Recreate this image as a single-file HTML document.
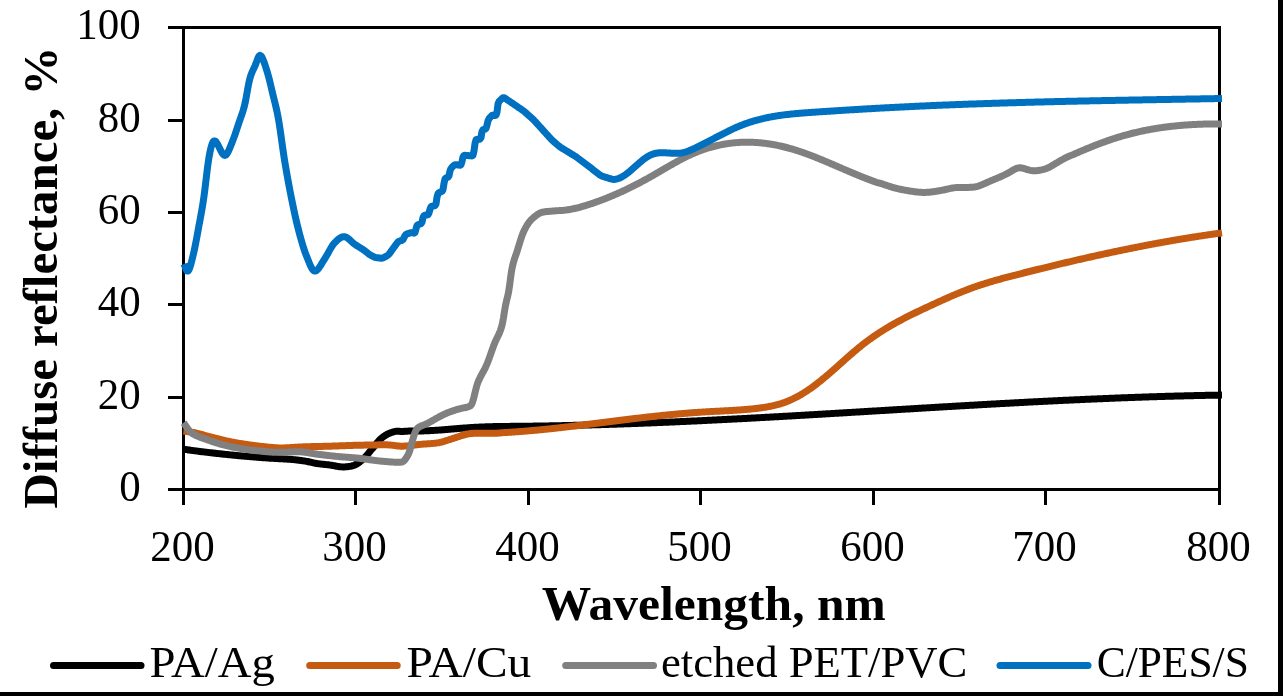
<!DOCTYPE html>
<html><head><meta charset="utf-8">
<style>
html,body{margin:0;padding:0;background:#fff;}
body{width:1283px;height:696px;overflow:hidden;position:relative;}
svg{position:absolute;left:0;top:0;will-change:transform;}
text{font-family:"Liberation Serif",serif;fill:#000;}
</style></head><body>
<svg width="1283" height="696" viewBox="0 0 1283 696">
<rect x="0" y="0" width="1283" height="696" fill="#fff"/>
<g font-size="44.5">
<g text-anchor="end">
<text transform="translate(140.8,39.3) scale(0.966,1)">100</text>
<text transform="translate(140.8,132.3) scale(0.966,1)">80</text>
<text transform="translate(140.8,224.3) scale(0.966,1)">60</text>
<text transform="translate(140.8,316.3) scale(0.966,1)">40</text>
<text transform="translate(140.8,409.3) scale(0.966,1)">20</text>
<text transform="translate(140.8,501.3) scale(0.966,1)">0</text>
</g>
<g text-anchor="middle">
<text transform="translate(182.5,561.2) scale(0.966,1)">200</text>
<text transform="translate(354.5,561.2) scale(0.966,1)">300</text>
<text transform="translate(527.5,561.2) scale(0.966,1)">400</text>
<text transform="translate(699.5,561.2) scale(0.966,1)">500</text>
<text transform="translate(872.5,561.2) scale(0.966,1)">600</text>
<text transform="translate(1044.5,561.2) scale(0.966,1)">700</text>
<text transform="translate(1218.5,561.2) scale(0.966,1)">800</text>
</g>
</g>
<text x="541.8" y="620" font-size="49.5" font-weight="bold" textLength="343.9" lengthAdjust="spacingAndGlyphs">Wavelength, nm</text>
<text transform="translate(57,508.45) rotate(-90)" x="0" y="0" font-size="49.5" font-weight="bold" textLength="461.9" lengthAdjust="spacingAndGlyphs">Diffuse reflectance, %</text>
<g stroke-width="7" stroke-linecap="round">
<line x1="53.5" y1="665.4" x2="141" y2="665.4" stroke="#000"/>
<line x1="309.7" y1="665.4" x2="397.2" y2="665.4" stroke="#C55A11"/>
<line x1="565.7" y1="665.4" x2="653.5" y2="665.4" stroke="#808080"/>
<line x1="1000" y1="665.4" x2="1088" y2="665.4" stroke="#0070C0"/>
</g>
<g font-size="44.5">
<text x="149.45" y="677.1" textLength="125.44" lengthAdjust="spacingAndGlyphs">PA/Ag</text>
<text x="406.53" y="677.1" textLength="124.75" lengthAdjust="spacingAndGlyphs">PA/Cu</text>
<text x="660.9" y="677.1" textLength="306.5" lengthAdjust="spacingAndGlyphs">etched PET/PVC</text>
<text x="1096.65" y="677.1" textLength="152.2" lengthAdjust="spacingAndGlyphs">C/PES/S</text>
</g>
<g stroke="#000" stroke-width="3" fill="none" shape-rendering="crispEdges">
<line x1="168" y1="27.5" x2="183.5" y2="27.5"/>
<line x1="168" y1="120.5" x2="183.5" y2="120.5"/>
<line x1="168" y1="212.5" x2="183.5" y2="212.5"/>
<line x1="168" y1="304.5" x2="183.5" y2="304.5"/>
<line x1="168" y1="397.5" x2="183.5" y2="397.5"/>
<line x1="168" y1="489.5" x2="183.5" y2="489.5"/>
<line x1="168" y1="27.5" x2="1221" y2="27.5"/>
<line x1="183.5" y1="26" x2="183.5" y2="505"/>
<line x1="168" y1="489.5" x2="1221" y2="489.5"/>
<line x1="1219.5" y1="26" x2="1219.5" y2="505"/>
<line x1="183.5" y1="489.5" x2="183.5" y2="505"/>
<line x1="355.5" y1="489.5" x2="355.5" y2="505"/>
<line x1="528.5" y1="489.5" x2="528.5" y2="505"/>
<line x1="700.5" y1="489.5" x2="700.5" y2="505"/>
<line x1="873.5" y1="489.5" x2="873.5" y2="505"/>
<line x1="1045.5" y1="489.5" x2="1045.5" y2="505"/>
<line x1="1219.5" y1="489.5" x2="1219.5" y2="505"/>
</g>
<path d="M183.5,449.32 L184.5,449.41 L185.5,449.52 L186.5,449.65 L187.5,449.80 L188.5,449.94 L189.5,450.08 L190.5,450.22 L191.5,450.36 L192.5,450.50 L193.5,450.63 L194.5,450.76 L195.5,450.89 L196.5,451.02 L197.5,451.15 L198.5,451.28 L199.5,451.40 L200.5,451.53 L201.5,451.65 L202.5,451.77 L203.5,451.90 L204.5,452.02 L205.5,452.14 L206.5,452.26 L207.5,452.38 L208.5,452.49 L209.5,452.61 L210.5,452.72 L211.5,452.84 L212.5,452.95 L213.5,453.07 L214.5,453.18 L215.5,453.29 L216.5,453.40 L217.5,453.51 L218.5,453.62 L219.5,453.73 L220.5,453.84 L221.5,453.94 L222.5,454.05 L223.5,454.16 L224.5,454.26 L225.5,454.37 L226.5,454.47 L227.5,454.57 L228.5,454.68 L229.5,454.78 L230.5,454.88 L231.5,454.98 L232.5,455.08 L233.5,455.17 L234.5,455.27 L235.5,455.37 L236.5,455.46 L237.5,455.56 L238.5,455.65 L239.5,455.74 L240.5,455.84 L241.5,455.93 L242.5,456.02 L243.5,456.11 L244.5,456.19 L245.5,456.28 L246.5,456.37 L247.5,456.45 L248.5,456.54 L249.5,456.62 L250.5,456.71 L251.5,456.79 L252.5,456.87 L253.5,456.96 L254.5,457.04 L255.5,457.12 L256.5,457.20 L257.5,457.28 L258.5,457.35 L259.5,457.43 L260.5,457.51 L261.5,457.58 L262.5,457.66 L263.5,457.73 L264.5,457.80 L265.5,457.87 L266.5,457.94 L267.5,458.01 L268.5,458.08 L269.5,458.14 L270.5,458.20 L271.5,458.26 L272.5,458.32 L273.5,458.37 L274.5,458.43 L275.5,458.48 L276.5,458.54 L277.5,458.59 L278.5,458.64 L279.5,458.69 L280.5,458.75 L281.5,458.80 L282.5,458.85 L283.5,458.91 L284.5,458.97 L285.5,459.03 L286.5,459.09 L287.5,459.16 L288.5,459.23 L289.5,459.30 L290.5,459.37 L291.5,459.45 L292.5,459.54 L293.5,459.63 L294.5,459.72 L295.5,459.82 L296.5,459.93 L297.5,460.04 L298.5,460.16 L299.5,460.28 L300.5,460.41 L301.5,460.55 L302.5,460.69 L303.5,460.84 L304.5,460.99 L305.5,461.17 L306.5,461.35 L307.5,461.55 L308.5,461.76 L309.5,461.98 L310.5,462.21 L311.5,462.44 L312.5,462.66 L313.5,462.88 L314.5,463.09 L315.5,463.28 L316.5,463.45 L317.5,463.61 L318.5,463.75 L319.5,463.88 L320.5,464.00 L321.5,464.11 L322.5,464.21 L323.5,464.31 L324.5,464.41 L325.5,464.51 L326.5,464.62 L327.5,464.72 L328.5,464.84 L329.5,464.97 L330.5,465.11 L331.5,465.26 L332.5,465.43 L333.5,465.62 L334.5,465.81 L335.5,466.01 L336.5,466.20 L337.5,466.38 L338.5,466.54 L339.5,466.68 L340.5,466.79 L341.5,466.87 L342.5,466.92 L343.5,466.93 L344.5,466.90 L345.5,466.85 L346.5,466.77 L347.5,466.66 L348.5,466.53 L349.5,466.38 L350.5,466.21 L351.5,466.01 L352.5,465.78 L353.5,465.49 L354.5,465.13 L355.5,464.69 L356.5,464.16 L357.5,463.55 L358.5,462.87 L359.5,462.13 L360.5,461.34 L361.5,460.52 L362.5,459.66 L363.5,458.75 L364.5,457.77 L365.5,456.71 L366.5,455.60 L367.5,454.43 L368.5,453.24 L369.5,452.03 L370.5,450.82 L371.5,449.62 L372.5,448.43 L373.5,447.23 L374.5,446.01 L375.5,444.77 L376.5,443.53 L377.5,442.32 L378.5,441.15 L379.5,440.06 L380.5,439.06 L381.5,438.17 L382.5,437.36 L383.5,436.62 L384.5,435.93 L385.5,435.29 L386.5,434.69 L387.5,434.15 L388.5,433.66 L389.5,433.23 L390.5,432.85 L391.5,432.51 L392.5,432.20 L393.5,431.91 L394.5,431.64 L395.5,431.41 L396.5,431.20 L397.5,431.15 L398.5,431.23 L399.5,431.32 L400.5,431.41 L401.5,431.47 L402.5,431.50 L403.5,431.45 L404.5,431.36 L405.5,431.28 L406.5,431.22 L407.5,431.16 L408.5,431.12 L409.5,431.08 L410.5,431.05 L411.5,431.03 L412.5,431.01 L413.5,430.99 L414.5,430.98 L415.5,430.98 L416.5,430.97 L417.5,430.97 L418.5,430.96 L419.5,430.95 L420.5,430.94 L421.5,430.92 L422.5,430.90 L423.5,430.88 L424.5,430.85 L425.5,430.82 L426.5,430.78 L427.5,430.74 L428.5,430.70 L429.5,430.65 L430.5,430.60 L431.5,430.55 L432.5,430.50 L433.5,430.44 L434.5,430.38 L435.5,430.32 L436.5,430.25 L437.5,430.19 L438.5,430.12 L439.5,430.05 L440.5,429.97 L441.5,429.90 L442.5,429.82 L443.5,429.74 L444.5,429.67 L445.5,429.59 L446.5,429.50 L447.5,429.42 L448.5,429.34 L449.5,429.26 L450.5,429.17 L451.5,429.09 L452.5,429.00 L453.5,428.92 L454.5,428.83 L455.5,428.75 L456.5,428.67 L457.5,428.58 L458.5,428.50 L459.5,428.42 L460.5,428.33 L461.5,428.25 L462.5,428.17 L463.5,428.09 L464.5,428.02 L465.5,427.94 L466.5,427.87 L467.5,427.79 L468.5,427.72 L469.5,427.65 L470.5,427.59 L471.5,427.52 L472.5,427.46 L473.5,427.40 L474.5,427.34 L475.5,427.29 L476.5,427.23 L477.5,427.18 L478.5,427.13 L479.5,427.09 L480.5,427.04 L481.5,427.00 L482.5,426.96 L483.5,426.92 L484.5,426.88 L485.5,426.85 L486.5,426.82 L487.5,426.78 L488.5,426.75 L489.5,426.72 L490.5,426.70 L491.5,426.67 L492.5,426.65 L493.5,426.62 L494.5,426.60 L495.5,426.58 L496.5,426.56 L497.5,426.54 L498.5,426.52 L499.5,426.51 L500.5,426.49 L501.5,426.48 L502.5,426.46 L503.5,426.45 L504.5,426.43 L505.5,426.42 L506.5,426.41 L507.5,426.40 L508.5,426.39 L509.5,426.38 L510.5,426.37 L511.5,426.36 L512.5,426.35 L513.5,426.34 L514.5,426.33 L515.5,426.32 L516.5,426.31 L517.5,426.30 L518.5,426.29 L519.5,426.28 L520.5,426.27 L521.5,426.26 L522.5,426.25 L523.5,426.24 L524.5,426.23 L525.5,426.22 L526.5,426.21 L527.5,426.19 L528.5,426.18 L529.5,426.17 L530.5,426.16 L531.5,426.14 L532.5,426.13 L533.5,426.12 L534.5,426.10 L535.5,426.09 L536.5,426.07 L537.5,426.06 L538.5,426.04 L539.5,426.03 L540.5,426.01 L541.5,426.00 L542.5,425.98 L543.5,425.97 L544.5,425.95 L545.5,425.93 L546.5,425.92 L547.5,425.90 L548.5,425.88 L549.5,425.86 L550.5,425.84 L551.5,425.83 L552.5,425.81 L553.5,425.79 L554.5,425.77 L555.5,425.75 L556.5,425.73 L557.5,425.71 L558.5,425.69 L559.5,425.67 L560.5,425.65 L561.5,425.63 L562.5,425.61 L563.5,425.59 L564.5,425.57 L565.5,425.54 L566.5,425.52 L567.5,425.50 L568.5,425.48 L569.5,425.46 L570.5,425.43 L571.5,425.41 L572.5,425.39 L573.5,425.36 L574.5,425.34 L575.5,425.31 L576.5,425.29 L577.5,425.27 L578.5,425.24 L579.5,425.22 L580.5,425.19 L581.5,425.16 L582.5,425.14 L583.5,425.11 L584.5,425.09 L585.5,425.06 L586.5,425.03 L587.5,425.01 L588.5,424.98 L589.5,424.95 L590.5,424.92 L591.5,424.90 L592.5,424.87 L593.5,424.84 L594.5,424.81 L595.5,424.78 L596.5,424.75 L597.5,424.73 L598.5,424.70 L599.5,424.67 L600.5,424.64 L601.5,424.61 L602.5,424.58 L603.5,424.55 L604.5,424.52 L605.5,424.48 L606.5,424.45 L607.5,424.42 L608.5,424.39 L609.5,424.36 L610.5,424.33 L611.5,424.30 L612.5,424.26 L613.5,424.23 L614.5,424.20 L615.5,424.16 L616.5,424.13 L617.5,424.10 L618.5,424.06 L619.5,424.03 L620.5,424.00 L621.5,423.96 L622.5,423.93 L623.5,423.89 L624.5,423.86 L625.5,423.82 L626.5,423.79 L627.5,423.75 L628.5,423.72 L629.5,423.68 L630.5,423.65 L631.5,423.61 L632.5,423.57 L633.5,423.54 L634.5,423.50 L635.5,423.46 L636.5,423.43 L637.5,423.39 L638.5,423.35 L639.5,423.32 L640.5,423.28 L641.5,423.24 L642.5,423.20 L643.5,423.16 L644.5,423.12 L645.5,423.09 L646.5,423.05 L647.5,423.01 L648.5,422.97 L649.5,422.93 L650.5,422.89 L651.5,422.85 L652.5,422.81 L653.5,422.77 L654.5,422.73 L655.5,422.69 L656.5,422.65 L657.5,422.61 L658.5,422.57 L659.5,422.53 L660.5,422.48 L661.5,422.44 L662.5,422.40 L663.5,422.36 L664.5,422.32 L665.5,422.28 L666.5,422.23 L667.5,422.19 L668.5,422.15 L669.5,422.10 L670.5,422.06 L671.5,422.02 L672.5,421.98 L673.5,421.93 L674.5,421.89 L675.5,421.84 L676.5,421.80 L677.5,421.76 L678.5,421.71 L679.5,421.67 L680.5,421.62 L681.5,421.58 L682.5,421.53 L683.5,421.49 L684.5,421.44 L685.5,421.40 L686.5,421.35 L687.5,421.31 L688.5,421.26 L689.5,421.22 L690.5,421.17 L691.5,421.12 L692.5,421.08 L693.5,421.03 L694.5,420.98 L695.5,420.94 L696.5,420.89 L697.5,420.84 L698.5,420.80 L699.5,420.75 L700.5,420.70 L701.5,420.65 L702.5,420.60 L703.5,420.56 L704.5,420.51 L705.5,420.46 L706.5,420.41 L707.5,420.36 L708.5,420.32 L709.5,420.27 L710.5,420.22 L711.5,420.17 L712.5,420.12 L713.5,420.07 L714.5,420.02 L715.5,419.97 L716.5,419.92 L717.5,419.87 L718.5,419.82 L719.5,419.77 L720.5,419.72 L721.5,419.67 L722.5,419.62 L723.5,419.57 L724.5,419.52 L725.5,419.47 L726.5,419.42 L727.5,419.37 L728.5,419.32 L729.5,419.27 L730.5,419.21 L731.5,419.16 L732.5,419.11 L733.5,419.06 L734.5,419.01 L735.5,418.96 L736.5,418.90 L737.5,418.85 L738.5,418.80 L739.5,418.75 L740.5,418.69 L741.5,418.64 L742.5,418.59 L743.5,418.54 L744.5,418.48 L745.5,418.43 L746.5,418.38 L747.5,418.32 L748.5,418.27 L749.5,418.22 L750.5,418.16 L751.5,418.11 L752.5,418.06 L753.5,418.00 L754.5,417.95 L755.5,417.89 L756.5,417.84 L757.5,417.79 L758.5,417.73 L759.5,417.68 L760.5,417.62 L761.5,417.57 L762.5,417.51 L763.5,417.46 L764.5,417.40 L765.5,417.35 L766.5,417.29 L767.5,417.24 L768.5,417.18 L769.5,417.13 L770.5,417.07 L771.5,417.02 L772.5,416.96 L773.5,416.91 L774.5,416.85 L775.5,416.79 L776.5,416.74 L777.5,416.68 L778.5,416.63 L779.5,416.57 L780.5,416.51 L781.5,416.46 L782.5,416.40 L783.5,416.35 L784.5,416.29 L785.5,416.23 L786.5,416.18 L787.5,416.12 L788.5,416.06 L789.5,416.01 L790.5,415.95 L791.5,415.89 L792.5,415.83 L793.5,415.78 L794.5,415.72 L795.5,415.66 L796.5,415.60 L797.5,415.55 L798.5,415.49 L799.5,415.43 L800.5,415.37 L801.5,415.32 L802.5,415.26 L803.5,415.20 L804.5,415.14 L805.5,415.09 L806.5,415.03 L807.5,414.97 L808.5,414.91 L809.5,414.85 L810.5,414.80 L811.5,414.74 L812.5,414.68 L813.5,414.62 L814.5,414.56 L815.5,414.50 L816.5,414.45 L817.5,414.39 L818.5,414.33 L819.5,414.27 L820.5,414.21 L821.5,414.15 L822.5,414.09 L823.5,414.03 L824.5,413.98 L825.5,413.92 L826.5,413.86 L827.5,413.80 L828.5,413.74 L829.5,413.68 L830.5,413.62 L831.5,413.56 L832.5,413.50 L833.5,413.44 L834.5,413.38 L835.5,413.32 L836.5,413.26 L837.5,413.21 L838.5,413.15 L839.5,413.09 L840.5,413.03 L841.5,412.97 L842.5,412.91 L843.5,412.85 L844.5,412.79 L845.5,412.73 L846.5,412.67 L847.5,412.61 L848.5,412.55 L849.5,412.49 L850.5,412.43 L851.5,412.37 L852.5,412.31 L853.5,412.25 L854.5,412.19 L855.5,412.13 L856.5,412.07 L857.5,412.01 L858.5,411.95 L859.5,411.89 L860.5,411.83 L861.5,411.77 L862.5,411.71 L863.5,411.65 L864.5,411.59 L865.5,411.53 L866.5,411.47 L867.5,411.41 L868.5,411.35 L869.5,411.29 L870.5,411.23 L871.5,411.17 L872.5,411.11 L873.5,411.05 L874.5,410.99 L875.5,410.93 L876.5,410.87 L877.5,410.81 L878.5,410.75 L879.5,410.69 L880.5,410.63 L881.5,410.57 L882.5,410.51 L883.5,410.45 L884.5,410.39 L885.5,410.33 L886.5,410.27 L887.5,410.21 L888.5,410.15 L889.5,410.09 L890.5,410.03 L891.5,409.97 L892.5,409.91 L893.5,409.85 L894.5,409.79 L895.5,409.73 L896.5,409.67 L897.5,409.61 L898.5,409.55 L899.5,409.49 L900.5,409.43 L901.5,409.37 L902.5,409.31 L903.5,409.24 L904.5,409.18 L905.5,409.12 L906.5,409.06 L907.5,409.01 L908.5,408.95 L909.5,408.89 L910.5,408.83 L911.5,408.77 L912.5,408.71 L913.5,408.65 L914.5,408.59 L915.5,408.53 L916.5,408.47 L917.5,408.41 L918.5,408.35 L919.5,408.29 L920.5,408.23 L921.5,408.17 L922.5,408.11 L923.5,408.05 L924.5,407.99 L925.5,407.93 L926.5,407.87 L927.5,407.81 L928.5,407.75 L929.5,407.69 L930.5,407.63 L931.5,407.57 L932.5,407.51 L933.5,407.46 L934.5,407.40 L935.5,407.34 L936.5,407.28 L937.5,407.22 L938.5,407.16 L939.5,407.10 L940.5,407.04 L941.5,406.98 L942.5,406.92 L943.5,406.87 L944.5,406.81 L945.5,406.75 L946.5,406.69 L947.5,406.63 L948.5,406.57 L949.5,406.51 L950.5,406.46 L951.5,406.40 L952.5,406.34 L953.5,406.28 L954.5,406.22 L955.5,406.16 L956.5,406.11 L957.5,406.05 L958.5,405.99 L959.5,405.93 L960.5,405.87 L961.5,405.82 L962.5,405.76 L963.5,405.70 L964.5,405.64 L965.5,405.59 L966.5,405.53 L967.5,405.47 L968.5,405.41 L969.5,405.36 L970.5,405.30 L971.5,405.24 L972.5,405.18 L973.5,405.13 L974.5,405.07 L975.5,405.01 L976.5,404.96 L977.5,404.90 L978.5,404.84 L979.5,404.79 L980.5,404.73 L981.5,404.67 L982.5,404.62 L983.5,404.56 L984.5,404.50 L985.5,404.45 L986.5,404.39 L987.5,404.34 L988.5,404.28 L989.5,404.22 L990.5,404.17 L991.5,404.11 L992.5,404.06 L993.5,404.00 L994.5,403.95 L995.5,403.89 L996.5,403.84 L997.5,403.78 L998.5,403.73 L999.5,403.67 L1000.5,403.62 L1001.5,403.56 L1002.5,403.51 L1003.5,403.45 L1004.5,403.40 L1005.5,403.34 L1006.5,403.29 L1007.5,403.23 L1008.5,403.18 L1009.5,403.13 L1010.5,403.07 L1011.5,403.02 L1012.5,402.96 L1013.5,402.91 L1014.5,402.86 L1015.5,402.80 L1016.5,402.75 L1017.5,402.70 L1018.5,402.64 L1019.5,402.59 L1020.5,402.54 L1021.5,402.49 L1022.5,402.43 L1023.5,402.38 L1024.5,402.33 L1025.5,402.27 L1026.5,402.22 L1027.5,402.17 L1028.5,402.12 L1029.5,402.07 L1030.5,402.01 L1031.5,401.96 L1032.5,401.91 L1033.5,401.86 L1034.5,401.81 L1035.5,401.76 L1036.5,401.71 L1037.5,401.65 L1038.5,401.60 L1039.5,401.55 L1040.5,401.50 L1041.5,401.45 L1042.5,401.40 L1043.5,401.35 L1044.5,401.30 L1045.5,401.25 L1046.5,401.20 L1047.5,401.15 L1048.5,401.10 L1049.5,401.05 L1050.5,401.00 L1051.5,400.95 L1052.5,400.90 L1053.5,400.85 L1054.5,400.81 L1055.5,400.76 L1056.5,400.71 L1057.5,400.66 L1058.5,400.61 L1059.5,400.56 L1060.5,400.52 L1061.5,400.47 L1062.5,400.42 L1063.5,400.37 L1064.5,400.32 L1065.5,400.28 L1066.5,400.23 L1067.5,400.18 L1068.5,400.14 L1069.5,400.09 L1070.5,400.04 L1071.5,400.00 L1072.5,399.95 L1073.5,399.90 L1074.5,399.86 L1075.5,399.81 L1076.5,399.76 L1077.5,399.72 L1078.5,399.67 L1079.5,399.63 L1080.5,399.58 L1081.5,399.54 L1082.5,399.49 L1083.5,399.45 L1084.5,399.40 L1085.5,399.36 L1086.5,399.31 L1087.5,399.27 L1088.5,399.23 L1089.5,399.18 L1090.5,399.14 L1091.5,399.10 L1092.5,399.05 L1093.5,399.01 L1094.5,398.97 L1095.5,398.92 L1096.5,398.88 L1097.5,398.84 L1098.5,398.80 L1099.5,398.75 L1100.5,398.71 L1101.5,398.67 L1102.5,398.63 L1103.5,398.59 L1104.5,398.54 L1105.5,398.50 L1106.5,398.46 L1107.5,398.42 L1108.5,398.38 L1109.5,398.34 L1110.5,398.30 L1111.5,398.26 L1112.5,398.22 L1113.5,398.18 L1114.5,398.14 L1115.5,398.10 L1116.5,398.06 L1117.5,398.02 L1118.5,397.98 L1119.5,397.94 L1120.5,397.91 L1121.5,397.87 L1122.5,397.83 L1123.5,397.79 L1124.5,397.75 L1125.5,397.72 L1126.5,397.68 L1127.5,397.64 L1128.5,397.60 L1129.5,397.57 L1130.5,397.53 L1131.5,397.49 L1132.5,397.46 L1133.5,397.42 L1134.5,397.39 L1135.5,397.35 L1136.5,397.31 L1137.5,397.28 L1138.5,397.24 L1139.5,397.21 L1140.5,397.17 L1141.5,397.14 L1142.5,397.11 L1143.5,397.07 L1144.5,397.04 L1145.5,397.00 L1146.5,396.97 L1147.5,396.94 L1148.5,396.90 L1149.5,396.87 L1150.5,396.84 L1151.5,396.80 L1152.5,396.77 L1153.5,396.74 L1154.5,396.71 L1155.5,396.68 L1156.5,396.64 L1157.5,396.61 L1158.5,396.58 L1159.5,396.55 L1160.5,396.52 L1161.5,396.49 L1162.5,396.46 L1163.5,396.43 L1164.5,396.40 L1165.5,396.37 L1166.5,396.34 L1167.5,396.31 L1168.5,396.28 L1169.5,396.25 L1170.5,396.23 L1171.5,396.20 L1172.5,396.17 L1173.5,396.14 L1174.5,396.11 L1175.5,396.09 L1176.5,396.06 L1177.5,396.03 L1178.5,396.01 L1179.5,395.98 L1180.5,395.95 L1181.5,395.93 L1182.5,395.90 L1183.5,395.88 L1184.5,395.85 L1185.5,395.83 L1186.5,395.80 L1187.5,395.78 L1188.5,395.75 L1189.5,395.73 L1190.5,395.70 L1191.5,395.68 L1192.5,395.66 L1193.5,395.63 L1194.5,395.61 L1195.5,395.59 L1196.5,395.56 L1197.5,395.54 L1198.5,395.52 L1199.5,395.50 L1200.5,395.48 L1201.5,395.45 L1202.5,395.43 L1203.5,395.41 L1204.5,395.39 L1205.5,395.37 L1206.5,395.35 L1207.5,395.33 L1208.5,395.31 L1209.5,395.29 L1210.5,395.27 L1211.5,395.26 L1212.5,395.24 L1213.5,395.22 L1214.5,395.20 L1215.5,395.18 L1216.5,395.16 L1217.5,395.15 L1218.5,395.13 L1219.5,395.11 L1220.5,395.10 L1221.5,395.08 L1222.0,395.07" stroke="#000000" stroke-width="7" fill="none" stroke-linejoin="round" stroke-linecap="butt"/>
<path d="M183.4,431.15 L184.4,431.23 L185.4,431.32 L186.4,431.43 L187.4,431.56 L188.4,431.70 L189.4,431.85 L190.4,432.01 L191.4,432.18 L192.4,432.35 L193.4,432.54 L194.4,432.74 L195.4,432.95 L196.4,433.18 L197.4,433.41 L198.4,433.65 L199.4,433.90 L200.4,434.16 L201.4,434.42 L202.4,434.70 L203.4,434.97 L204.4,435.25 L205.4,435.53 L206.4,435.81 L207.4,436.09 L208.4,436.37 L209.4,436.64 L210.4,436.92 L211.4,437.18 L212.4,437.45 L213.4,437.70 L214.4,437.96 L215.4,438.21 L216.4,438.45 L217.4,438.70 L218.4,438.94 L219.4,439.19 L220.4,439.43 L221.4,439.67 L222.4,439.91 L223.4,440.14 L224.4,440.38 L225.4,440.61 L226.4,440.84 L227.4,441.06 L228.4,441.28 L229.4,441.49 L230.4,441.70 L231.4,441.91 L232.4,442.11 L233.4,442.30 L234.4,442.49 L235.4,442.67 L236.4,442.85 L237.4,443.02 L238.4,443.19 L239.4,443.35 L240.4,443.52 L241.4,443.68 L242.4,443.83 L243.4,443.99 L244.4,444.14 L245.4,444.29 L246.4,444.44 L247.4,444.58 L248.4,444.73 L249.4,444.87 L250.4,445.01 L251.4,445.14 L252.4,445.28 L253.4,445.41 L254.4,445.54 L255.4,445.66 L256.4,445.79 L257.4,445.91 L258.4,446.03 L259.4,446.15 L260.4,446.26 L261.4,446.38 L262.4,446.49 L263.4,446.59 L264.4,446.70 L265.4,446.81 L266.4,446.91 L267.4,447.01 L268.4,447.12 L269.4,447.22 L270.4,447.32 L271.4,447.42 L272.4,447.51 L273.4,447.60 L274.4,447.69 L275.4,447.76 L276.4,447.82 L277.4,447.87 L278.4,447.91 L279.4,447.93 L280.4,447.94 L281.4,447.94 L282.4,447.93 L283.4,447.91 L284.4,447.89 L285.4,447.85 L286.4,447.81 L287.4,447.76 L288.4,447.71 L289.4,447.66 L290.4,447.60 L291.4,447.55 L292.4,447.48 L293.4,447.42 L294.4,447.36 L295.4,447.30 L296.4,447.23 L297.4,447.17 L298.4,447.11 L299.4,447.06 L300.4,447.01 L301.4,446.96 L302.4,446.91 L303.4,446.87 L304.4,446.83 L305.4,446.79 L306.4,446.76 L307.4,446.73 L308.4,446.70 L309.4,446.67 L310.4,446.65 L311.4,446.62 L312.4,446.60 L313.4,446.57 L314.4,446.55 L315.4,446.53 L316.4,446.51 L317.4,446.49 L318.4,446.47 L319.4,446.45 L320.4,446.42 L321.4,446.40 L322.4,446.38 L323.4,446.36 L324.4,446.34 L325.4,446.31 L326.4,446.29 L327.4,446.26 L328.4,446.24 L329.4,446.21 L330.4,446.18 L331.4,446.15 L332.4,446.12 L333.4,446.09 L334.4,446.05 L335.4,446.02 L336.4,445.98 L337.4,445.94 L338.4,445.91 L339.4,445.87 L340.4,445.83 L341.4,445.79 L342.4,445.75 L343.4,445.71 L344.4,445.67 L345.4,445.64 L346.4,445.60 L347.4,445.56 L348.4,445.53 L349.4,445.49 L350.4,445.46 L351.4,445.43 L352.4,445.40 L353.4,445.37 L354.4,445.34 L355.4,445.32 L356.4,445.29 L357.4,445.27 L358.4,445.25 L359.4,445.22 L360.4,445.20 L361.4,445.18 L362.4,445.16 L363.4,445.14 L364.4,445.12 L365.4,445.09 L366.4,445.07 L367.4,445.05 L368.4,445.03 L369.4,445.01 L370.4,445.00 L371.4,444.98 L372.4,444.96 L373.4,444.94 L374.4,444.93 L375.4,444.91 L376.4,444.90 L377.4,444.88 L378.4,444.87 L379.4,444.86 L380.4,444.85 L381.4,444.84 L382.4,444.83 L383.4,444.83 L384.4,444.82 L385.4,444.83 L386.4,444.84 L387.4,444.86 L388.4,444.90 L389.4,444.96 L390.4,445.04 L391.4,445.13 L392.4,445.25 L393.4,445.37 L394.4,445.51 L395.4,445.65 L396.4,445.78 L397.4,445.90 L398.4,446.00 L399.4,446.08 L400.4,446.14 L401.4,446.17 L402.4,446.17 L403.4,446.15 L404.4,446.11 L405.4,446.05 L406.4,445.98 L407.4,445.89 L408.4,445.78 L409.4,445.67 L410.4,445.55 L411.4,445.43 L412.4,445.30 L413.4,445.17 L414.4,445.04 L415.4,444.92 L416.4,444.79 L417.4,444.67 L418.4,444.56 L419.4,444.46 L420.4,444.36 L421.4,444.27 L422.4,444.18 L423.4,444.10 L424.4,444.03 L425.4,443.96 L426.4,443.89 L427.4,443.82 L428.4,443.76 L429.4,443.69 L430.4,443.62 L431.4,443.54 L432.4,443.46 L433.4,443.37 L434.4,443.27 L435.4,443.16 L436.4,443.04 L437.4,442.89 L438.4,442.73 L439.4,442.54 L440.4,442.32 L441.4,442.08 L442.4,441.82 L443.4,441.54 L444.4,441.24 L445.4,440.93 L446.4,440.61 L447.4,440.28 L448.4,439.95 L449.4,439.62 L450.4,439.30 L451.4,438.98 L452.4,438.66 L453.4,438.34 L454.4,438.02 L455.4,437.69 L456.4,437.36 L457.4,437.03 L458.4,436.69 L459.4,436.36 L460.4,436.02 L461.4,435.69 L462.4,435.37 L463.4,435.06 L464.4,434.77 L465.4,434.50 L466.4,434.25 L467.4,434.04 L468.4,433.85 L469.4,433.69 L470.4,433.57 L471.4,433.47 L472.4,433.40 L473.4,433.35 L474.4,433.32 L475.4,433.30 L476.4,433.28 L477.4,433.28 L478.4,433.27 L479.4,433.27 L480.4,433.26 L481.4,433.26 L482.4,433.26 L483.4,433.25 L484.4,433.25 L485.4,433.25 L486.4,433.25 L487.4,433.24 L488.4,433.24 L489.4,433.24 L490.4,433.24 L491.4,433.23 L492.4,433.23 L493.4,433.23 L494.4,433.22 L495.4,433.21 L496.4,433.21 L497.4,433.18 L498.4,433.10 L499.4,433.02 L500.4,432.93 L501.4,432.82 L502.4,432.71 L503.4,432.62 L504.4,432.56 L505.4,432.51 L506.4,432.45 L507.4,432.39 L508.4,432.34 L509.4,432.28 L510.4,432.21 L511.4,432.15 L512.4,432.08 L513.4,432.02 L514.4,431.95 L515.4,431.88 L516.4,431.81 L517.4,431.74 L518.4,431.67 L519.4,431.59 L520.4,431.52 L521.4,431.44 L522.4,431.37 L523.4,431.29 L524.4,431.21 L525.4,431.13 L526.4,431.04 L527.4,430.96 L528.4,430.87 L529.4,430.79 L530.4,430.70 L531.4,430.61 L532.4,430.53 L533.4,430.44 L534.4,430.34 L535.4,430.25 L536.4,430.16 L537.4,430.07 L538.4,429.97 L539.4,429.88 L540.4,429.78 L541.4,429.68 L542.4,429.58 L543.4,429.48 L544.4,429.38 L545.4,429.28 L546.4,429.18 L547.4,429.08 L548.4,428.97 L549.4,428.87 L550.4,428.76 L551.4,428.65 L552.4,428.55 L553.4,428.44 L554.4,428.33 L555.4,428.22 L556.4,428.11 L557.4,428.00 L558.4,427.89 L559.4,427.78 L560.4,427.67 L561.4,427.55 L562.4,427.44 L563.4,427.32 L564.4,427.21 L565.4,427.09 L566.4,426.98 L567.4,426.86 L568.4,426.74 L569.4,426.63 L570.4,426.51 L571.4,426.39 L572.4,426.27 L573.4,426.15 L574.4,426.03 L575.4,425.91 L576.4,425.79 L577.4,425.67 L578.4,425.55 L579.4,425.42 L580.4,425.30 L581.4,425.18 L582.4,425.06 L583.4,424.93 L584.4,424.81 L585.4,424.68 L586.4,424.56 L587.4,424.44 L588.4,424.31 L589.4,424.19 L590.4,424.06 L591.4,423.94 L592.4,423.81 L593.4,423.68 L594.4,423.56 L595.4,423.43 L596.4,423.31 L597.4,423.18 L598.4,423.05 L599.4,422.93 L600.4,422.80 L601.4,422.68 L602.4,422.55 L603.4,422.42 L604.4,422.30 L605.4,422.17 L606.4,422.04 L607.4,421.92 L608.4,421.79 L609.4,421.67 L610.4,421.54 L611.4,421.41 L612.4,421.29 L613.4,421.16 L614.4,421.04 L615.4,420.91 L616.4,420.79 L617.4,420.66 L618.4,420.54 L619.4,420.41 L620.4,420.29 L621.4,420.16 L622.4,420.04 L623.4,419.92 L624.4,419.79 L625.4,419.67 L626.4,419.55 L627.4,419.43 L628.4,419.31 L629.4,419.18 L630.4,419.06 L631.4,418.94 L632.4,418.82 L633.4,418.70 L634.4,418.58 L635.4,418.46 L636.4,418.34 L637.4,418.23 L638.4,418.11 L639.4,417.99 L640.4,417.87 L641.4,417.76 L642.4,417.64 L643.4,417.53 L644.4,417.41 L645.4,417.30 L646.4,417.18 L647.4,417.07 L648.4,416.96 L649.4,416.85 L650.4,416.74 L651.4,416.63 L652.4,416.52 L653.4,416.41 L654.4,416.30 L655.4,416.19 L656.4,416.08 L657.4,415.97 L658.4,415.87 L659.4,415.76 L660.4,415.66 L661.4,415.55 L662.4,415.45 L663.4,415.35 L664.4,415.25 L665.4,415.15 L666.4,415.05 L667.4,414.95 L668.4,414.85 L669.4,414.75 L670.4,414.65 L671.4,414.56 L672.4,414.46 L673.4,414.37 L674.4,414.28 L675.4,414.18 L676.4,414.09 L677.4,414.00 L678.4,413.91 L679.4,413.82 L680.4,413.73 L681.4,413.65 L682.4,413.56 L683.4,413.48 L684.4,413.39 L685.4,413.31 L686.4,413.23 L687.4,413.15 L688.4,413.07 L689.4,412.99 L690.4,412.91 L691.4,412.83 L692.4,412.76 L693.4,412.68 L694.4,412.61 L695.4,412.54 L696.4,412.47 L697.4,412.40 L698.4,412.33 L699.4,412.26 L700.4,412.20 L701.4,412.13 L702.4,412.07 L703.4,412.00 L704.4,411.94 L705.4,411.88 L706.4,411.82 L707.4,411.77 L708.4,411.71 L709.4,411.65 L710.4,411.60 L711.4,411.54 L712.4,411.49 L713.4,411.44 L714.4,411.38 L715.4,411.33 L716.4,411.28 L717.4,411.23 L718.4,411.18 L719.4,411.13 L720.4,411.07 L721.4,411.02 L722.4,410.97 L723.4,410.92 L724.4,410.87 L725.4,410.81 L726.4,410.76 L727.4,410.71 L728.4,410.65 L729.4,410.59 L730.4,410.54 L731.4,410.48 L732.4,410.42 L733.4,410.36 L734.4,410.30 L735.4,410.24 L736.4,410.17 L737.4,410.10 L738.4,410.04 L739.4,409.97 L740.4,409.90 L741.4,409.82 L742.4,409.75 L743.4,409.67 L744.4,409.59 L745.4,409.51 L746.4,409.42 L747.4,409.34 L748.4,409.25 L749.4,409.15 L750.4,409.06 L751.4,408.96 L752.4,408.86 L753.4,408.76 L754.4,408.65 L755.4,408.54 L756.4,408.43 L757.4,408.31 L758.4,408.19 L759.4,408.06 L760.4,407.93 L761.4,407.79 L762.4,407.65 L763.4,407.51 L764.4,407.35 L765.4,407.19 L766.4,407.03 L767.4,406.85 L768.4,406.67 L769.4,406.48 L770.4,406.29 L771.4,406.08 L772.4,405.87 L773.4,405.64 L774.4,405.41 L775.4,405.16 L776.4,404.91 L777.4,404.65 L778.4,404.37 L779.4,404.09 L780.4,403.79 L781.4,403.48 L782.4,403.15 L783.4,402.82 L784.4,402.47 L785.4,402.11 L786.4,401.74 L787.4,401.35 L788.4,400.94 L789.4,400.52 L790.4,400.09 L791.4,399.64 L792.4,399.18 L793.4,398.70 L794.4,398.21 L795.4,397.70 L796.4,397.18 L797.4,396.65 L798.4,396.10 L799.4,395.54 L800.4,394.96 L801.4,394.37 L802.4,393.77 L803.4,393.15 L804.4,392.53 L805.4,391.89 L806.4,391.24 L807.4,390.57 L808.4,389.90 L809.4,389.21 L810.4,388.51 L811.4,387.80 L812.4,387.08 L813.4,386.35 L814.4,385.61 L815.4,384.86 L816.4,384.10 L817.4,383.33 L818.4,382.55 L819.4,381.75 L820.4,380.95 L821.4,380.15 L822.4,379.33 L823.4,378.50 L824.4,377.67 L825.4,376.83 L826.4,375.99 L827.4,375.14 L828.4,374.28 L829.4,373.42 L830.4,372.55 L831.4,371.68 L832.4,370.80 L833.4,369.92 L834.4,369.04 L835.4,368.15 L836.4,367.27 L837.4,366.38 L838.4,365.49 L839.4,364.60 L840.4,363.70 L841.4,362.81 L842.4,361.92 L843.4,361.03 L844.4,360.14 L845.4,359.25 L846.4,358.37 L847.4,357.48 L848.4,356.60 L849.4,355.73 L850.4,354.85 L851.4,353.99 L852.4,353.12 L853.4,352.26 L854.4,351.41 L855.4,350.56 L856.4,349.72 L857.4,348.89 L858.4,348.06 L859.4,347.24 L860.4,346.43 L861.4,345.63 L862.4,344.83 L863.4,344.05 L864.4,343.28 L865.4,342.51 L866.4,341.75 L867.4,341.00 L868.4,340.26 L869.4,339.53 L870.4,338.81 L871.4,338.09 L872.4,337.39 L873.4,336.69 L874.4,336.00 L875.4,335.31 L876.4,334.64 L877.4,333.97 L878.4,333.31 L879.4,332.65 L880.4,332.00 L881.4,331.36 L882.4,330.73 L883.4,330.10 L884.4,329.48 L885.4,328.87 L886.4,328.26 L887.4,327.66 L888.4,327.06 L889.4,326.47 L890.4,325.89 L891.4,325.31 L892.4,324.73 L893.4,324.17 L894.4,323.60 L895.4,323.05 L896.4,322.49 L897.4,321.94 L898.4,321.40 L899.4,320.86 L900.4,320.33 L901.4,319.80 L902.4,319.27 L903.4,318.75 L904.4,318.23 L905.4,317.71 L906.4,317.20 L907.4,316.69 L908.4,316.19 L909.4,315.69 L910.4,315.19 L911.4,314.69 L912.4,314.20 L913.4,313.71 L914.4,313.23 L915.4,312.74 L916.4,312.26 L917.4,311.78 L918.4,311.30 L919.4,310.82 L920.4,310.35 L921.4,309.88 L922.4,309.40 L923.4,308.93 L924.4,308.47 L925.4,308.00 L926.4,307.53 L927.4,307.06 L928.4,306.60 L929.4,306.14 L930.4,305.67 L931.4,305.21 L932.4,304.74 L933.4,304.28 L934.4,303.82 L935.4,303.36 L936.4,302.90 L937.4,302.44 L938.4,301.98 L939.4,301.52 L940.4,301.07 L941.4,300.62 L942.4,300.16 L943.4,299.71 L944.4,299.26 L945.4,298.82 L946.4,298.37 L947.4,297.93 L948.4,297.48 L949.4,297.05 L950.4,296.61 L951.4,296.17 L952.4,295.74 L953.4,295.31 L954.4,294.89 L955.4,294.46 L956.4,294.04 L957.4,293.62 L958.4,293.21 L959.4,292.80 L960.4,292.39 L961.4,291.98 L962.4,291.58 L963.4,291.18 L964.4,290.79 L965.4,290.40 L966.4,290.01 L967.4,289.63 L968.4,289.25 L969.4,288.87 L970.4,288.50 L971.4,288.14 L972.4,287.77 L973.4,287.42 L974.4,287.06 L975.4,286.71 L976.4,286.37 L977.4,286.02 L978.4,285.69 L979.4,285.35 L980.4,285.02 L981.4,284.69 L982.4,284.37 L983.4,284.05 L984.4,283.73 L985.4,283.41 L986.4,283.10 L987.4,282.79 L988.4,282.49 L989.4,282.19 L990.4,281.89 L991.4,281.59 L992.4,281.29 L993.4,281.00 L994.4,280.71 L995.4,280.42 L996.4,280.14 L997.4,279.86 L998.4,279.58 L999.4,279.30 L1000.4,279.02 L1001.4,278.75 L1002.4,278.47 L1003.4,278.20 L1004.4,277.93 L1005.4,277.66 L1006.4,277.40 L1007.4,277.13 L1008.4,276.87 L1009.4,276.61 L1010.4,276.35 L1011.4,276.09 L1012.4,275.83 L1013.4,275.57 L1014.4,275.31 L1015.4,275.05 L1016.4,274.80 L1017.4,274.54 L1018.4,274.29 L1019.4,274.03 L1020.4,273.78 L1021.4,273.53 L1022.4,273.27 L1023.4,273.02 L1024.4,272.77 L1025.4,272.52 L1026.4,272.26 L1027.4,272.01 L1028.4,271.76 L1029.4,271.51 L1030.4,271.26 L1031.4,271.01 L1032.4,270.76 L1033.4,270.51 L1034.4,270.26 L1035.4,270.01 L1036.4,269.77 L1037.4,269.52 L1038.4,269.27 L1039.4,269.02 L1040.4,268.78 L1041.4,268.53 L1042.4,268.28 L1043.4,268.04 L1044.4,267.79 L1045.4,267.55 L1046.4,267.30 L1047.4,267.06 L1048.4,266.82 L1049.4,266.57 L1050.4,266.33 L1051.4,266.09 L1052.4,265.85 L1053.4,265.61 L1054.4,265.36 L1055.4,265.12 L1056.4,264.88 L1057.4,264.64 L1058.4,264.40 L1059.4,264.17 L1060.4,263.93 L1061.4,263.69 L1062.4,263.45 L1063.4,263.21 L1064.4,262.98 L1065.4,262.74 L1066.4,262.50 L1067.4,262.27 L1068.4,262.03 L1069.4,261.80 L1070.4,261.57 L1071.4,261.33 L1072.4,261.10 L1073.4,260.87 L1074.4,260.63 L1075.4,260.40 L1076.4,260.17 L1077.4,259.94 L1078.4,259.71 L1079.4,259.48 L1080.4,259.25 L1081.4,259.02 L1082.4,258.79 L1083.4,258.57 L1084.4,258.34 L1085.4,258.11 L1086.4,257.88 L1087.4,257.66 L1088.4,257.43 L1089.4,257.21 L1090.4,256.98 L1091.4,256.76 L1092.4,256.54 L1093.4,256.31 L1094.4,256.09 L1095.4,255.87 L1096.4,255.65 L1097.4,255.43 L1098.4,255.21 L1099.4,254.99 L1100.4,254.77 L1101.4,254.55 L1102.4,254.33 L1103.4,254.12 L1104.4,253.90 L1105.4,253.68 L1106.4,253.47 L1107.4,253.25 L1108.4,253.04 L1109.4,252.82 L1110.4,252.61 L1111.4,252.39 L1112.4,252.18 L1113.4,251.97 L1114.4,251.76 L1115.4,251.55 L1116.4,251.34 L1117.4,251.13 L1118.4,250.92 L1119.4,250.71 L1120.4,250.50 L1121.4,250.30 L1122.4,250.09 L1123.4,249.88 L1124.4,249.68 L1125.4,249.47 L1126.4,249.27 L1127.4,249.06 L1128.4,248.86 L1129.4,248.66 L1130.4,248.46 L1131.4,248.25 L1132.4,248.05 L1133.4,247.85 L1134.4,247.65 L1135.4,247.46 L1136.4,247.26 L1137.4,247.06 L1138.4,246.86 L1139.4,246.67 L1140.4,246.47 L1141.4,246.28 L1142.4,246.08 L1143.4,245.89 L1144.4,245.69 L1145.4,245.50 L1146.4,245.31 L1147.4,245.12 L1148.4,244.93 L1149.4,244.74 L1150.4,244.55 L1151.4,244.36 L1152.4,244.17 L1153.4,243.99 L1154.4,243.80 L1155.4,243.61 L1156.4,243.43 L1157.4,243.24 L1158.4,243.06 L1159.4,242.88 L1160.4,242.70 L1161.4,242.51 L1162.4,242.33 L1163.4,242.15 L1164.4,241.97 L1165.4,241.79 L1166.4,241.62 L1167.4,241.44 L1168.4,241.26 L1169.4,241.08 L1170.4,240.91 L1171.4,240.73 L1172.4,240.56 L1173.4,240.39 L1174.4,240.21 L1175.4,240.04 L1176.4,239.87 L1177.4,239.70 L1178.4,239.53 L1179.4,239.36 L1180.4,239.19 L1181.4,239.03 L1182.4,238.86 L1183.4,238.69 L1184.4,238.53 L1185.4,238.37 L1186.4,238.20 L1187.4,238.04 L1188.4,237.88 L1189.4,237.72 L1190.4,237.55 L1191.4,237.39 L1192.4,237.24 L1193.4,237.08 L1194.4,236.92 L1195.4,236.76 L1196.4,236.61 L1197.4,236.45 L1198.4,236.30 L1199.4,236.14 L1200.4,235.99 L1201.4,235.84 L1202.4,235.69 L1203.4,235.54 L1204.4,235.39 L1205.4,235.24 L1206.4,235.09 L1207.4,234.94 L1208.4,234.80 L1209.4,234.65 L1210.4,234.51 L1211.4,234.36 L1212.4,234.22 L1213.4,234.08 L1214.4,233.94 L1215.4,233.79 L1216.4,233.65 L1217.4,233.52 L1218.4,233.38 L1219.4,233.24 L1220.4,233.10 L1221.4,232.97 L1222.0,232.89" stroke="#C55A11" stroke-width="7" fill="none" stroke-linejoin="round" stroke-linecap="butt"/>
<path d="M183.5,422.75 L184.5,423.98 L185.5,425.42 L186.5,426.95 L187.5,428.44 L188.5,429.80 L189.5,430.98 L190.5,431.99 L191.5,432.83 L192.5,433.55 L193.5,434.18 L194.5,434.74 L195.5,435.25 L196.5,435.72 L197.5,436.16 L198.5,436.58 L199.5,436.98 L200.5,437.36 L201.5,437.73 L202.5,438.10 L203.5,438.46 L204.5,438.81 L205.5,439.16 L206.5,439.51 L207.5,439.86 L208.5,440.21 L209.5,440.55 L210.5,440.90 L211.5,441.24 L212.5,441.57 L213.5,441.91 L214.5,442.24 L215.5,442.56 L216.5,442.88 L217.5,443.19 L218.5,443.50 L219.5,443.80 L220.5,444.09 L221.5,444.38 L222.5,444.66 L223.5,444.93 L224.5,445.20 L225.5,445.45 L226.5,445.70 L227.5,445.94 L228.5,446.17 L229.5,446.39 L230.5,446.61 L231.5,446.82 L232.5,447.02 L233.5,447.22 L234.5,447.42 L235.5,447.61 L236.5,447.80 L237.5,447.98 L238.5,448.16 L239.5,448.34 L240.5,448.51 L241.5,448.68 L242.5,448.84 L243.5,449.00 L244.5,449.16 L245.5,449.31 L246.5,449.45 L247.5,449.60 L248.5,449.73 L249.5,449.87 L250.5,449.99 L251.5,450.12 L252.5,450.23 L253.5,450.35 L254.5,450.46 L255.5,450.57 L256.5,450.68 L257.5,450.78 L258.5,450.89 L259.5,450.99 L260.5,451.10 L261.5,451.20 L262.5,451.30 L263.5,451.40 L264.5,451.50 L265.5,451.60 L266.5,451.69 L267.5,451.78 L268.5,451.86 L269.5,451.94 L270.5,452.01 L271.5,452.08 L272.5,452.14 L273.5,452.20 L274.5,452.25 L275.5,452.29 L276.5,452.32 L277.5,452.35 L278.5,452.36 L279.5,452.37 L280.5,452.37 L281.5,452.35 L282.5,452.33 L283.5,452.31 L284.5,452.27 L285.5,452.23 L286.5,452.18 L287.5,452.14 L288.5,452.08 L289.5,452.03 L290.5,451.98 L291.5,451.93 L292.5,451.88 L293.5,451.84 L294.5,451.80 L295.5,451.78 L296.5,451.76 L297.5,451.75 L298.5,451.76 L299.5,451.78 L300.5,451.83 L301.5,451.89 L302.5,451.97 L303.5,452.08 L304.5,452.20 L305.5,452.33 L306.5,452.48 L307.5,452.63 L308.5,452.79 L309.5,452.96 L310.5,453.13 L311.5,453.30 L312.5,453.47 L313.5,453.63 L314.5,453.79 L315.5,453.94 L316.5,454.08 L317.5,454.22 L318.5,454.35 L319.5,454.47 L320.5,454.59 L321.5,454.71 L322.5,454.83 L323.5,454.95 L324.5,455.07 L325.5,455.19 L326.5,455.30 L327.5,455.41 L328.5,455.53 L329.5,455.64 L330.5,455.75 L331.5,455.86 L332.5,455.96 L333.5,456.07 L334.5,456.17 L335.5,456.27 L336.5,456.37 L337.5,456.46 L338.5,456.56 L339.5,456.65 L340.5,456.73 L341.5,456.82 L342.5,456.90 L343.5,456.97 L344.5,457.05 L345.5,457.12 L346.5,457.19 L347.5,457.26 L348.5,457.33 L349.5,457.40 L350.5,457.47 L351.5,457.55 L352.5,457.63 L353.5,457.71 L354.5,457.79 L355.5,457.88 L356.5,457.98 L357.5,458.08 L358.5,458.19 L359.5,458.31 L360.5,458.43 L361.5,458.56 L362.5,458.69 L363.5,458.82 L364.5,458.96 L365.5,459.11 L366.5,459.25 L367.5,459.40 L368.5,459.54 L369.5,459.69 L370.5,459.83 L371.5,459.97 L372.5,460.12 L373.5,460.25 L374.5,460.39 L375.5,460.52 L376.5,460.64 L377.5,460.76 L378.5,460.87 L379.5,460.98 L380.5,461.08 L381.5,461.17 L382.5,461.26 L383.5,461.35 L384.5,461.43 L385.5,461.52 L386.5,461.60 L387.5,461.68 L388.5,461.76 L389.5,461.84 L390.5,461.92 L391.5,461.99 L392.5,462.06 L393.5,462.12 L394.5,462.18 L395.5,462.22 L396.5,462.26 L397.5,462.28 L398.5,462.29 L399.5,462.27 L400.5,462.22 L401.5,462.11 L402.5,461.83 L403.5,461.22 L404.5,460.24 L405.5,458.99 L406.5,457.52 L407.5,455.85 L408.5,453.89 L409.5,451.36 L410.5,448.04 L411.5,444.22 L412.5,440.46 L413.5,437.03 L414.5,433.94 L415.5,431.33 L416.5,429.44 L417.5,428.24 L418.5,427.42 L419.5,426.79 L420.5,426.26 L421.5,425.81 L422.5,425.41 L423.5,425.04 L424.5,424.66 L425.5,424.26 L426.5,423.82 L427.5,423.33 L428.5,422.80 L429.5,422.26 L430.5,421.71 L431.5,421.15 L432.5,420.59 L433.5,420.02 L434.5,419.45 L435.5,418.88 L436.5,418.32 L437.5,417.75 L438.5,417.20 L439.5,416.66 L440.5,416.12 L441.5,415.60 L442.5,415.10 L443.5,414.61 L444.5,414.14 L445.5,413.69 L446.5,413.27 L447.5,412.86 L448.5,412.47 L449.5,412.09 L450.5,411.72 L451.5,411.36 L452.5,411.01 L453.5,410.68 L454.5,410.34 L455.5,410.02 L456.5,409.70 L457.5,409.39 L458.5,409.08 L459.5,408.78 L460.5,408.52 L461.5,408.28 L462.5,408.08 L463.5,407.89 L464.5,407.70 L465.5,407.50 L466.5,407.28 L467.5,407.02 L468.5,406.71 L469.5,406.31 L470.5,405.71 L471.5,404.55 L472.5,402.33 L473.5,399.00 L474.5,394.95 L475.5,390.70 L476.5,386.81 L477.5,383.58 L478.5,380.98 L479.5,378.75 L480.5,376.74 L481.5,374.86 L482.5,373.04 L483.5,371.22 L484.5,369.34 L485.5,367.33 L486.5,365.15 L487.5,362.75 L488.5,360.16 L489.5,357.42 L490.5,354.58 L491.5,351.72 L492.5,348.88 L493.5,346.14 L494.5,343.58 L495.5,341.23 L496.5,339.09 L497.5,337.04 L498.5,334.96 L499.5,332.71 L500.5,330.16 L501.5,327.09 L502.5,323.07 L503.5,317.65 L504.5,311.32 L505.5,305.47 L506.5,300.88 L507.5,296.98 L508.5,292.47 L509.5,286.12 L510.5,278.32 L511.5,271.28 L512.5,266.08 L513.5,262.15 L514.5,258.88 L515.5,255.92 L516.5,253.02 L517.5,249.98 L518.5,246.77 L519.5,243.48 L520.5,240.24 L521.5,237.16 L522.5,234.37 L523.5,231.92 L524.5,229.79 L525.5,227.88 L526.5,226.13 L527.5,224.50 L528.5,223.02 L529.5,221.68 L530.5,220.49 L531.5,219.44 L532.5,218.49 L533.5,217.60 L534.5,216.75 L535.5,215.94 L536.5,215.18 L537.5,214.48 L538.5,213.85 L539.5,213.30 L540.5,212.84 L541.5,212.47 L542.5,212.20 L543.5,212.00 L544.5,211.84 L545.5,211.71 L546.5,211.59 L547.5,211.48 L548.5,211.39 L549.5,211.30 L550.5,211.22 L551.5,211.15 L552.5,211.07 L553.5,211.00 L554.5,210.93 L555.5,210.86 L556.5,210.78 L557.5,210.70 L558.5,210.63 L559.5,210.57 L560.5,210.53 L561.5,210.48 L562.5,210.42 L563.5,210.34 L564.5,210.23 L565.5,210.11 L566.5,209.97 L567.5,209.83 L568.5,209.67 L569.5,209.50 L570.5,209.32 L571.5,209.13 L572.5,208.93 L573.5,208.72 L574.5,208.51 L575.5,208.28 L576.5,208.04 L577.5,207.80 L578.5,207.54 L579.5,207.28 L580.5,207.02 L581.5,206.74 L582.5,206.46 L583.5,206.17 L584.5,205.87 L585.5,205.57 L586.5,205.26 L587.5,204.95 L588.5,204.63 L589.5,204.30 L590.5,203.98 L591.5,203.64 L592.5,203.31 L593.5,202.97 L594.5,202.62 L595.5,202.27 L596.5,201.91 L597.5,201.56 L598.5,201.19 L599.5,200.83 L600.5,200.45 L601.5,200.08 L602.5,199.70 L603.5,199.31 L604.5,198.92 L605.5,198.53 L606.5,198.14 L607.5,197.73 L608.5,197.33 L609.5,196.92 L610.5,196.51 L611.5,196.09 L612.5,195.67 L613.5,195.24 L614.5,194.81 L615.5,194.38 L616.5,193.94 L617.5,193.50 L618.5,193.06 L619.5,192.61 L620.5,192.15 L621.5,191.70 L622.5,191.24 L623.5,190.77 L624.5,190.30 L625.5,189.83 L626.5,189.35 L627.5,188.87 L628.5,188.39 L629.5,187.90 L630.5,187.41 L631.5,186.92 L632.5,186.42 L633.5,185.92 L634.5,185.41 L635.5,184.90 L636.5,184.39 L637.5,183.87 L638.5,183.35 L639.5,182.83 L640.5,182.30 L641.5,181.77 L642.5,181.23 L643.5,180.69 L644.5,180.15 L645.5,179.61 L646.5,179.06 L647.5,178.51 L648.5,177.95 L649.5,177.39 L650.5,176.83 L651.5,176.26 L652.5,175.69 L653.5,175.12 L654.5,174.55 L655.5,173.97 L656.5,173.39 L657.5,172.81 L658.5,172.23 L659.5,171.65 L660.5,171.07 L661.5,170.48 L662.5,169.90 L663.5,169.31 L664.5,168.73 L665.5,168.15 L666.5,167.57 L667.5,166.99 L668.5,166.41 L669.5,165.83 L670.5,165.26 L671.5,164.69 L672.5,164.12 L673.5,163.56 L674.5,163.00 L675.5,162.44 L676.5,161.88 L677.5,161.34 L678.5,160.79 L679.5,160.25 L680.5,159.72 L681.5,159.19 L682.5,158.67 L683.5,158.15 L684.5,157.64 L685.5,157.14 L686.5,156.65 L687.5,156.16 L688.5,155.68 L689.5,155.21 L690.5,154.74 L691.5,154.29 L692.5,153.84 L693.5,153.41 L694.5,152.98 L695.5,152.56 L696.5,152.15 L697.5,151.75 L698.5,151.36 L699.5,150.97 L700.5,150.60 L701.5,150.23 L702.5,149.87 L703.5,149.52 L704.5,149.18 L705.5,148.85 L706.5,148.53 L707.5,148.21 L708.5,147.90 L709.5,147.61 L710.5,147.32 L711.5,147.03 L712.5,146.76 L713.5,146.50 L714.5,146.24 L715.5,145.99 L716.5,145.75 L717.5,145.52 L718.5,145.29 L719.5,145.08 L720.5,144.87 L721.5,144.67 L722.5,144.48 L723.5,144.30 L724.5,144.12 L725.5,143.95 L726.5,143.79 L727.5,143.64 L728.5,143.50 L729.5,143.36 L730.5,143.23 L731.5,143.11 L732.5,143.00 L733.5,142.89 L734.5,142.79 L735.5,142.70 L736.5,142.62 L737.5,142.55 L738.5,142.48 L739.5,142.42 L740.5,142.37 L741.5,142.32 L742.5,142.28 L743.5,142.25 L744.5,142.23 L745.5,142.21 L746.5,142.21 L747.5,142.20 L748.5,142.21 L749.5,142.22 L750.5,142.24 L751.5,142.27 L752.5,142.31 L753.5,142.35 L754.5,142.40 L755.5,142.45 L756.5,142.52 L757.5,142.58 L758.5,142.66 L759.5,142.74 L760.5,142.84 L761.5,142.93 L762.5,143.04 L763.5,143.15 L764.5,143.26 L765.5,143.39 L766.5,143.52 L767.5,143.66 L768.5,143.80 L769.5,143.95 L770.5,144.11 L771.5,144.27 L772.5,144.44 L773.5,144.62 L774.5,144.80 L775.5,144.99 L776.5,145.19 L777.5,145.39 L778.5,145.60 L779.5,145.81 L780.5,146.03 L781.5,146.26 L782.5,146.49 L783.5,146.73 L784.5,146.98 L785.5,147.23 L786.5,147.48 L787.5,147.75 L788.5,148.02 L789.5,148.29 L790.5,148.57 L791.5,148.86 L792.5,149.16 L793.5,149.45 L794.5,149.76 L795.5,150.07 L796.5,150.38 L797.5,150.71 L798.5,151.03 L799.5,151.36 L800.5,151.70 L801.5,152.04 L802.5,152.39 L803.5,152.74 L804.5,153.09 L805.5,153.45 L806.5,153.81 L807.5,154.18 L808.5,154.55 L809.5,154.93 L810.5,155.31 L811.5,155.69 L812.5,156.08 L813.5,156.47 L814.5,156.86 L815.5,157.25 L816.5,157.65 L817.5,158.06 L818.5,158.46 L819.5,158.87 L820.5,159.28 L821.5,159.69 L822.5,160.10 L823.5,160.52 L824.5,160.94 L825.5,161.36 L826.5,161.78 L827.5,162.20 L828.5,162.62 L829.5,163.05 L830.5,163.48 L831.5,163.91 L832.5,164.34 L833.5,164.77 L834.5,165.20 L835.5,165.63 L836.5,166.06 L837.5,166.49 L838.5,166.92 L839.5,167.36 L840.5,167.79 L841.5,168.22 L842.5,168.65 L843.5,169.09 L844.5,169.52 L845.5,169.95 L846.5,170.38 L847.5,170.81 L848.5,171.23 L849.5,171.66 L850.5,172.09 L851.5,172.51 L852.5,172.93 L853.5,173.35 L854.5,173.77 L855.5,174.19 L856.5,174.60 L857.5,175.02 L858.5,175.43 L859.5,175.84 L860.5,176.24 L861.5,176.64 L862.5,177.04 L863.5,177.44 L864.5,177.84 L865.5,178.23 L866.5,178.62 L867.5,179.00 L868.5,179.38 L869.5,179.76 L870.5,180.13 L871.5,180.50 L872.5,180.87 L873.5,181.23 L874.5,181.59 L875.5,181.94 L876.5,182.29 L877.5,182.59 L878.5,182.86 L879.5,183.14 L880.5,183.43 L881.5,183.71 L882.5,184.01 L883.5,184.33 L884.5,184.68 L885.5,185.02 L886.5,185.36 L887.5,185.70 L888.5,186.03 L889.5,186.36 L890.5,186.68 L891.5,186.99 L892.5,187.29 L893.5,187.59 L894.5,187.87 L895.5,188.14 L896.5,188.39 L897.5,188.64 L898.5,188.87 L899.5,189.09 L900.5,189.30 L901.5,189.50 L902.5,189.69 L903.5,189.88 L904.5,190.07 L905.5,190.25 L906.5,190.42 L907.5,190.60 L908.5,190.77 L909.5,190.94 L910.5,191.10 L911.5,191.25 L912.5,191.40 L913.5,191.54 L914.5,191.68 L915.5,191.80 L916.5,191.92 L917.5,192.03 L918.5,192.12 L919.5,192.21 L920.5,192.28 L921.5,192.33 L922.5,192.38 L923.5,192.40 L924.5,192.41 L925.5,192.40 L926.5,192.37 L927.5,192.33 L928.5,192.26 L929.5,192.17 L930.5,192.07 L931.5,191.95 L932.5,191.82 L933.5,191.67 L934.5,191.52 L935.5,191.36 L936.5,191.20 L937.5,191.03 L938.5,190.86 L939.5,190.69 L940.5,190.51 L941.5,190.33 L942.5,190.13 L943.5,189.94 L944.5,189.73 L945.5,189.51 L946.5,189.29 L947.5,189.06 L948.5,188.83 L949.5,188.61 L950.5,188.40 L951.5,188.20 L952.5,188.03 L953.5,187.87 L954.5,187.74 L955.5,187.63 L956.5,187.55 L957.5,187.49 L958.5,187.45 L959.5,187.43 L960.5,187.41 L961.5,187.41 L962.5,187.40 L963.5,187.40 L964.5,187.40 L965.5,187.40 L966.5,187.40 L967.5,187.39 L968.5,187.38 L969.5,187.36 L970.5,187.33 L971.5,187.28 L972.5,187.21 L973.5,187.10 L974.5,186.95 L975.5,186.77 L976.5,186.55 L977.5,186.28 L978.5,185.98 L979.5,185.65 L980.5,185.28 L981.5,184.90 L982.5,184.49 L983.5,184.06 L984.5,183.62 L985.5,183.18 L986.5,182.73 L987.5,182.28 L988.5,181.84 L989.5,181.40 L990.5,180.97 L991.5,180.54 L992.5,180.12 L993.5,179.71 L994.5,179.29 L995.5,178.88 L996.5,178.46 L997.5,178.04 L998.5,177.62 L999.5,177.18 L1000.5,176.75 L1001.5,176.30 L1002.5,175.85 L1003.5,175.39 L1004.5,174.92 L1005.5,174.44 L1006.5,173.93 L1007.5,173.41 L1008.5,172.85 L1009.5,172.27 L1010.5,171.67 L1011.5,171.06 L1012.5,170.44 L1013.5,169.85 L1014.5,169.30 L1015.5,168.82 L1016.5,168.42 L1017.5,168.11 L1018.5,167.92 L1019.5,167.83 L1020.5,167.85 L1021.5,167.96 L1022.5,168.14 L1023.5,168.39 L1024.5,168.68 L1025.5,168.99 L1026.5,169.31 L1027.5,169.63 L1028.5,169.93 L1029.5,170.19 L1030.5,170.41 L1031.5,170.58 L1032.5,170.69 L1033.5,170.75 L1034.5,170.77 L1035.5,170.73 L1036.5,170.67 L1037.5,170.56 L1038.5,170.44 L1039.5,170.28 L1040.5,170.11 L1041.5,169.91 L1042.5,169.68 L1043.5,169.42 L1044.5,169.12 L1045.5,168.78 L1046.5,168.41 L1047.5,167.99 L1048.5,167.53 L1049.5,167.04 L1050.5,166.52 L1051.5,165.97 L1052.5,165.40 L1053.5,164.81 L1054.5,164.21 L1055.5,163.61 L1056.5,163.00 L1057.5,162.39 L1058.5,161.80 L1059.5,161.21 L1060.5,160.63 L1061.5,160.07 L1062.5,159.53 L1063.5,158.99 L1064.5,158.47 L1065.5,157.95 L1066.5,157.43 L1067.5,156.94 L1068.5,156.47 L1069.5,156.03 L1070.5,155.61 L1071.5,155.21 L1072.5,154.84 L1073.5,154.43 L1074.5,153.99 L1075.5,153.55 L1076.5,153.12 L1077.5,152.68 L1078.5,152.25 L1079.5,151.82 L1080.5,151.39 L1081.5,150.96 L1082.5,150.54 L1083.5,150.11 L1084.5,149.69 L1085.5,149.27 L1086.5,148.86 L1087.5,148.45 L1088.5,148.03 L1089.5,147.63 L1090.5,147.22 L1091.5,146.82 L1092.5,146.42 L1093.5,146.02 L1094.5,145.62 L1095.5,145.23 L1096.5,144.84 L1097.5,144.46 L1098.5,144.07 L1099.5,143.69 L1100.5,143.32 L1101.5,142.94 L1102.5,142.57 L1103.5,142.20 L1104.5,141.84 L1105.5,141.48 L1106.5,141.12 L1107.5,140.77 L1108.5,140.42 L1109.5,140.08 L1110.5,139.74 L1111.5,139.40 L1112.5,139.06 L1113.5,138.73 L1114.5,138.41 L1115.5,138.09 L1116.5,137.77 L1117.5,137.45 L1118.5,137.14 L1119.5,136.84 L1120.5,136.54 L1121.5,136.24 L1122.5,135.95 L1123.5,135.66 L1124.5,135.38 L1125.5,135.10 L1126.5,134.82 L1127.5,134.55 L1128.5,134.29 L1129.5,134.02 L1130.5,133.76 L1131.5,133.51 L1132.5,133.26 L1133.5,133.01 L1134.5,132.77 L1135.5,132.53 L1136.5,132.29 L1137.5,132.06 L1138.5,131.83 L1139.5,131.61 L1140.5,131.39 L1141.5,131.18 L1142.5,130.96 L1143.5,130.76 L1144.5,130.55 L1145.5,130.35 L1146.5,130.15 L1147.5,129.96 L1148.5,129.77 L1149.5,129.58 L1150.5,129.40 L1151.5,129.22 L1152.5,129.04 L1153.5,128.87 L1154.5,128.70 L1155.5,128.54 L1156.5,128.37 L1157.5,128.22 L1158.5,128.06 L1159.5,127.91 L1160.5,127.76 L1161.5,127.61 L1162.5,127.47 L1163.5,127.33 L1164.5,127.20 L1165.5,127.06 L1166.5,126.93 L1167.5,126.81 L1168.5,126.68 L1169.5,126.56 L1170.5,126.45 L1171.5,126.33 L1172.5,126.22 L1173.5,126.11 L1174.5,126.01 L1175.5,125.91 L1176.5,125.81 L1177.5,125.71 L1178.5,125.62 L1179.5,125.52 L1180.5,125.44 L1181.5,125.35 L1182.5,125.27 L1183.5,125.19 L1184.5,125.11 L1185.5,125.04 L1186.5,124.96 L1187.5,124.89 L1188.5,124.83 L1189.5,124.76 L1190.5,124.70 L1191.5,124.64 L1192.5,124.59 L1193.5,124.53 L1194.5,124.48 L1195.5,124.43 L1196.5,124.38 L1197.5,124.34 L1198.5,124.30 L1199.5,124.26 L1200.5,124.22 L1201.5,124.18 L1202.5,124.15 L1203.5,124.12 L1204.5,124.09 L1205.5,124.06 L1206.5,124.04 L1207.5,124.02 L1208.5,124.00 L1209.5,123.98 L1210.5,123.96 L1211.5,123.95 L1212.5,123.94 L1213.5,123.92 L1214.5,123.92 L1215.5,123.91 L1216.5,123.91 L1217.5,123.90 L1218.5,123.90 L1219.5,123.90 L1220.5,123.90 L1221.5,123.91 L1222.0,123.91" stroke="#808080" stroke-width="7" fill="none" stroke-linejoin="round" stroke-linecap="butt"/>
<path d="M184.0,263.98 L185.0,266.56 L186.0,269.29 L187.0,270.97 L188.0,271.10 L189.0,269.72 L190.0,267.13 L191.0,263.72 L192.0,259.86 L193.0,255.76 L194.0,251.42 L195.0,246.71 L196.0,241.63 L197.0,236.30 L198.0,230.88 L199.0,225.48 L200.0,220.12 L201.0,214.72 L202.0,209.10 L203.0,203.05 L204.0,196.27 L205.0,188.55 L206.0,180.10 L207.0,171.62 L208.0,163.87 L209.0,157.25 L210.0,151.85 L211.0,147.57 L212.0,144.25 L213.0,141.98 L214.0,140.89 L215.0,140.92 L216.0,141.77 L217.0,143.18 L218.0,144.96 L219.0,146.96 L220.0,149.04 L221.0,151.04 L222.0,152.82 L223.0,154.24 L224.0,155.16 L225.0,155.43 L226.0,154.98 L227.0,153.81 L228.0,152.07 L229.0,149.91 L230.0,147.54 L231.0,145.10 L232.0,142.64 L233.0,140.09 L234.0,137.40 L235.0,134.56 L236.0,131.60 L237.0,128.57 L238.0,125.54 L239.0,122.56 L240.0,119.66 L241.0,116.84 L242.0,114.00 L243.0,110.99 L244.0,107.56 L245.0,103.45 L246.0,98.49 L247.0,92.89 L248.0,87.24 L249.0,82.19 L250.0,78.10 L251.0,74.92 L252.0,72.37 L253.0,70.14 L254.0,68.03 L255.0,65.83 L256.0,63.36 L257.0,60.61 L258.0,57.96 L259.0,56.03 L260.0,55.30 L261.0,55.79 L262.0,57.25 L263.0,59.39 L264.0,62.00 L265.0,64.91 L266.0,67.97 L267.0,71.15 L268.0,74.54 L269.0,78.24 L270.0,82.25 L271.0,86.44 L272.0,90.69 L273.0,94.88 L274.0,98.97 L275.0,103.03 L276.0,107.19 L277.0,111.64 L278.0,116.60 L279.0,122.26 L280.0,128.68 L281.0,135.67 L282.0,142.88 L283.0,149.95 L284.0,156.65 L285.0,162.93 L286.0,168.90 L287.0,174.65 L288.0,180.21 L289.0,185.61 L290.0,190.84 L291.0,195.94 L292.0,200.92 L293.0,205.80 L294.0,210.56 L295.0,215.17 L296.0,219.62 L297.0,223.88 L298.0,227.94 L299.0,231.82 L300.0,235.55 L301.0,239.16 L302.0,242.63 L303.0,245.95 L304.0,249.09 L305.0,252.01 L306.0,254.74 L307.0,257.31 L308.0,259.82 L309.0,262.29 L310.0,264.66 L311.0,266.82 L312.0,268.65 L313.0,270.02 L314.0,270.85 L315.0,271.10 L316.0,270.83 L317.0,270.14 L318.0,269.12 L319.0,267.84 L320.0,266.36 L321.0,264.77 L322.0,263.11 L323.0,261.46 L324.0,259.85 L325.0,258.28 L326.0,256.67 L327.0,254.98 L328.0,253.22 L329.0,251.41 L330.0,249.61 L331.0,247.87 L332.0,246.24 L333.0,244.77 L334.0,243.49 L335.0,242.39 L336.0,241.40 L337.0,240.47 L338.0,239.59 L339.0,238.78 L340.0,238.06 L341.0,237.46 L342.0,237.01 L343.0,236.74 L344.0,236.67 L345.0,236.81 L346.0,237.17 L347.0,237.72 L348.0,238.41 L349.0,239.23 L350.0,240.11 L351.0,241.04 L352.0,241.97 L353.0,242.87 L354.0,243.70 L355.0,244.45 L356.0,245.13 L357.0,245.78 L358.0,246.40 L359.0,247.02 L360.0,247.63 L361.0,248.25 L362.0,248.88 L363.0,249.53 L364.0,250.23 L365.0,250.97 L366.0,251.75 L367.0,252.56 L368.0,253.38 L369.0,254.17 L370.0,254.80 L371.0,255.36 L372.0,255.87 L373.0,256.36 L374.0,256.89 L375.0,257.40 L376.0,257.61 L377.0,257.72 L378.0,257.83 L379.0,257.94 L380.0,258.05 L381.0,258.16 L382.0,258.19 L383.0,257.89 L384.0,257.38 L385.0,256.84 L386.0,256.30 L387.0,255.76 L388.0,255.13 L389.0,254.12 L390.0,252.80 L391.0,251.42 L392.0,250.04 L393.0,248.66 L394.0,247.29 L395.0,245.91 L396.0,244.53 L397.0,243.16 L398.0,241.92 L399.0,241.29 L400.0,240.94 L401.0,240.62 L402.0,240.31 L403.0,239.66 L404.0,237.72 L405.0,235.61 L406.0,234.32 L407.0,233.86 L408.0,233.56 L409.0,233.27 L410.0,232.97 L411.0,232.72 L412.0,232.67 L413.0,232.88 L414.0,233.14 L415.0,232.56 L416.0,228.85 L417.0,225.59 L418.0,224.69 L419.0,224.34 L420.0,223.99 L421.0,223.63 L422.0,222.25 L423.0,217.59 L424.0,215.55 L425.0,215.21 L426.0,215.09 L427.0,214.98 L428.0,214.65 L429.0,212.94 L430.0,209.28 L431.0,206.70 L432.0,206.13 L433.0,205.99 L434.0,205.86 L435.0,205.71 L436.0,204.04 L437.0,197.27 L438.0,193.58 L439.0,192.69 L440.0,192.26 L441.0,191.84 L442.0,191.40 L443.0,189.66 L444.0,183.33 L445.0,179.00 L446.0,177.94 L447.0,177.54 L448.0,177.14 L449.0,175.70 L450.0,170.87 L451.0,168.44 L452.0,167.30 L453.0,166.30 L454.0,165.34 L455.0,164.68 L456.0,164.67 L457.0,164.80 L458.0,164.94 L459.0,165.07 L460.0,165.20 L461.0,164.74 L462.0,161.57 L463.0,157.04 L464.0,155.39 L465.0,155.28 L466.0,155.37 L467.0,155.47 L468.0,155.57 L469.0,155.66 L470.0,155.76 L471.0,155.86 L472.0,155.94 L473.0,155.27 L474.0,150.89 L475.0,143.67 L476.0,139.82 L477.0,139.21 L478.0,139.20 L479.0,139.20 L480.0,139.18 L481.0,137.63 L482.0,131.41 L483.0,129.71 L484.0,129.50 L485.0,129.30 L486.0,128.54 L487.0,125.25 L488.0,120.75 L489.0,118.81 L490.0,117.58 L491.0,116.36 L492.0,115.34 L493.0,115.12 L494.0,115.28 L495.0,115.49 L496.0,115.31 L497.0,112.14 L498.0,104.09 L499.0,101.43 L500.0,100.47 L501.0,99.53 L502.0,98.60 L503.0,97.81 L504.0,97.68 L505.0,98.23 L506.0,98.91 L507.0,99.59 L508.0,100.27 L509.0,100.96 L510.0,101.64 L511.0,102.32 L512.0,103.00 L513.0,103.69 L514.0,104.37 L515.0,105.05 L516.0,105.74 L517.0,106.42 L518.0,107.10 L519.0,107.79 L520.0,108.47 L521.0,109.15 L522.0,109.84 L523.0,110.54 L524.0,111.29 L525.0,112.12 L526.0,112.99 L527.0,113.88 L528.0,114.77 L529.0,115.67 L530.0,116.56 L531.0,117.46 L532.0,118.36 L533.0,119.31 L534.0,120.31 L535.0,121.37 L536.0,122.47 L537.0,123.57 L538.0,124.67 L539.0,125.77 L540.0,126.87 L541.0,127.97 L542.0,129.07 L543.0,130.18 L544.0,131.28 L545.0,132.38 L546.0,133.48 L547.0,134.58 L548.0,135.68 L549.0,136.78 L550.0,137.88 L551.0,138.96 L552.0,139.99 L553.0,140.94 L554.0,141.84 L555.0,142.71 L556.0,143.58 L557.0,144.44 L558.0,145.30 L559.0,146.12 L560.0,146.86 L561.0,147.54 L562.0,148.17 L563.0,148.78 L564.0,149.40 L565.0,150.01 L566.0,150.62 L567.0,151.24 L568.0,151.85 L569.0,152.46 L570.0,153.08 L571.0,153.69 L572.0,154.30 L573.0,154.92 L574.0,155.53 L575.0,156.15 L576.0,156.80 L577.0,157.48 L578.0,158.21 L579.0,158.95 L580.0,159.70 L581.0,160.45 L582.0,161.20 L583.0,161.95 L584.0,162.70 L585.0,163.45 L586.0,164.20 L587.0,164.96 L588.0,165.73 L589.0,166.50 L590.0,167.29 L591.0,168.07 L592.0,168.86 L593.0,169.65 L594.0,170.43 L595.0,171.22 L596.0,172.00 L597.0,172.79 L598.0,173.57 L599.0,174.34 L600.0,175.05 L601.0,175.63 L602.0,176.07 L603.0,176.41 L604.0,176.73 L605.0,177.05 L606.0,177.36 L607.0,177.67 L608.0,177.98 L609.0,178.30 L610.0,178.61 L611.0,178.92 L612.0,179.21 L613.0,179.44 L614.0,179.51 L615.0,179.39 L616.0,179.15 L617.0,178.87 L618.0,178.58 L619.0,178.26 L620.0,177.87 L621.0,177.38 L622.0,176.83 L623.0,176.24 L624.0,175.63 L625.0,174.98 L626.0,174.27 L627.0,173.50 L628.0,172.70 L629.0,171.90 L630.0,171.07 L631.0,170.23 L632.0,169.37 L633.0,168.49 L634.0,167.61 L635.0,166.72 L636.0,165.83 L637.0,164.94 L638.0,164.06 L639.0,163.19 L640.0,162.33 L641.0,161.49 L642.0,160.66 L643.0,159.87 L644.0,159.10 L645.0,158.36 L646.0,157.66 L647.0,157.00 L648.0,156.38 L649.0,155.81 L650.0,155.28 L651.0,154.82 L652.0,154.41 L653.0,154.05 L654.0,153.74 L655.0,153.48 L656.0,153.26 L657.0,153.09 L658.0,152.95 L659.0,152.85 L660.0,152.78 L661.0,152.74 L662.0,152.72 L663.0,152.72 L664.0,152.75 L665.0,152.79 L666.0,152.84 L667.0,152.90 L668.0,152.97 L669.0,153.04 L670.0,153.11 L671.0,153.18 L672.0,153.24 L673.0,153.30 L674.0,153.34 L675.0,153.36 L676.0,153.37 L677.0,153.36 L678.0,153.31 L679.0,153.25 L680.0,153.15 L681.0,153.01 L682.0,152.84 L683.0,152.64 L684.0,152.39 L685.0,152.12 L686.0,151.82 L687.0,151.49 L688.0,151.13 L689.0,150.76 L690.0,150.36 L691.0,149.94 L692.0,149.51 L693.0,149.06 L694.0,148.61 L695.0,148.14 L696.0,147.67 L697.0,147.19 L698.0,146.70 L699.0,146.21 L700.0,145.72 L701.0,145.22 L702.0,144.71 L703.0,144.21 L704.0,143.69 L705.0,143.18 L706.0,142.66 L707.0,142.14 L708.0,141.62 L709.0,141.10 L710.0,140.57 L711.0,140.05 L712.0,139.52 L713.0,139.00 L714.0,138.47 L715.0,137.94 L716.0,137.41 L717.0,136.89 L718.0,136.36 L719.0,135.84 L720.0,135.32 L721.0,134.80 L722.0,134.29 L723.0,133.77 L724.0,133.26 L725.0,132.76 L726.0,132.26 L727.0,131.76 L728.0,131.26 L729.0,130.78 L730.0,130.29 L731.0,129.81 L732.0,129.34 L733.0,128.88 L734.0,128.42 L735.0,127.97 L736.0,127.52 L737.0,127.09 L738.0,126.66 L739.0,126.24 L740.0,125.82 L741.0,125.42 L742.0,125.03 L743.0,124.64 L744.0,124.27 L745.0,123.90 L746.0,123.54 L747.0,123.19 L748.0,122.84 L749.0,122.51 L750.0,122.18 L751.0,121.86 L752.0,121.55 L753.0,121.24 L754.0,120.94 L755.0,120.65 L756.0,120.37 L757.0,120.09 L758.0,119.82 L759.0,119.56 L760.0,119.31 L761.0,119.06 L762.0,118.82 L763.0,118.58 L764.0,118.35 L765.0,118.13 L766.0,117.91 L767.0,117.70 L768.0,117.49 L769.0,117.29 L770.0,117.09 L771.0,116.90 L772.0,116.72 L773.0,116.54 L774.0,116.37 L775.0,116.20 L776.0,116.03 L777.0,115.87 L778.0,115.72 L779.0,115.57 L780.0,115.42 L781.0,115.28 L782.0,115.14 L783.0,115.01 L784.0,114.88 L785.0,114.75 L786.0,114.63 L787.0,114.51 L788.0,114.40 L789.0,114.29 L790.0,114.18 L791.0,114.07 L792.0,113.97 L793.0,113.87 L794.0,113.77 L795.0,113.67 L796.0,113.58 L797.0,113.49 L798.0,113.40 L799.0,113.32 L800.0,113.23 L801.0,113.15 L802.0,113.07 L803.0,112.99 L804.0,112.92 L805.0,112.84 L806.0,112.77 L807.0,112.70 L808.0,112.62 L809.0,112.55 L810.0,112.48 L811.0,112.41 L812.0,112.34 L813.0,112.28 L814.0,112.21 L815.0,112.14 L816.0,112.07 L817.0,112.01 L818.0,111.94 L819.0,111.87 L820.0,111.80 L821.0,111.74 L822.0,111.67 L823.0,111.61 L824.0,111.54 L825.0,111.47 L826.0,111.41 L827.0,111.34 L828.0,111.28 L829.0,111.21 L830.0,111.15 L831.0,111.08 L832.0,111.02 L833.0,110.95 L834.0,110.89 L835.0,110.82 L836.0,110.76 L837.0,110.69 L838.0,110.63 L839.0,110.57 L840.0,110.50 L841.0,110.44 L842.0,110.38 L843.0,110.31 L844.0,110.25 L845.0,110.19 L846.0,110.13 L847.0,110.07 L848.0,110.00 L849.0,109.94 L850.0,109.88 L851.0,109.82 L852.0,109.76 L853.0,109.70 L854.0,109.64 L855.0,109.58 L856.0,109.52 L857.0,109.46 L858.0,109.40 L859.0,109.34 L860.0,109.28 L861.0,109.22 L862.0,109.16 L863.0,109.10 L864.0,109.04 L865.0,108.98 L866.0,108.92 L867.0,108.87 L868.0,108.81 L869.0,108.75 L870.0,108.69 L871.0,108.64 L872.0,108.58 L873.0,108.52 L874.0,108.47 L875.0,108.41 L876.0,108.35 L877.0,108.30 L878.0,108.24 L879.0,108.19 L880.0,108.13 L881.0,108.08 L882.0,108.02 L883.0,107.97 L884.0,107.91 L885.0,107.86 L886.0,107.80 L887.0,107.75 L888.0,107.70 L889.0,107.64 L890.0,107.59 L891.0,107.54 L892.0,107.49 L893.0,107.43 L894.0,107.38 L895.0,107.33 L896.0,107.28 L897.0,107.23 L898.0,107.18 L899.0,107.13 L900.0,107.08 L901.0,107.02 L902.0,106.97 L903.0,106.92 L904.0,106.88 L905.0,106.83 L906.0,106.78 L907.0,106.73 L908.0,106.68 L909.0,106.63 L910.0,106.58 L911.0,106.53 L912.0,106.49 L913.0,106.44 L914.0,106.39 L915.0,106.35 L916.0,106.30 L917.0,106.25 L918.0,106.21 L919.0,106.16 L920.0,106.11 L921.0,106.07 L922.0,106.02 L923.0,105.98 L924.0,105.93 L925.0,105.89 L926.0,105.84 L927.0,105.80 L928.0,105.75 L929.0,105.71 L930.0,105.67 L931.0,105.62 L932.0,105.58 L933.0,105.54 L934.0,105.49 L935.0,105.45 L936.0,105.41 L937.0,105.37 L938.0,105.33 L939.0,105.28 L940.0,105.24 L941.0,105.20 L942.0,105.16 L943.0,105.12 L944.0,105.08 L945.0,105.04 L946.0,105.00 L947.0,104.96 L948.0,104.92 L949.0,104.88 L950.0,104.84 L951.0,104.80 L952.0,104.76 L953.0,104.72 L954.0,104.68 L955.0,104.64 L956.0,104.61 L957.0,104.57 L958.0,104.53 L959.0,104.49 L960.0,104.45 L961.0,104.42 L962.0,104.38 L963.0,104.34 L964.0,104.31 L965.0,104.27 L966.0,104.23 L967.0,104.20 L968.0,104.16 L969.0,104.12 L970.0,104.09 L971.0,104.05 L972.0,104.02 L973.0,103.98 L974.0,103.95 L975.0,103.91 L976.0,103.88 L977.0,103.84 L978.0,103.81 L979.0,103.78 L980.0,103.74 L981.0,103.71 L982.0,103.67 L983.0,103.64 L984.0,103.61 L985.0,103.57 L986.0,103.54 L987.0,103.51 L988.0,103.48 L989.0,103.44 L990.0,103.41 L991.0,103.38 L992.0,103.35 L993.0,103.32 L994.0,103.28 L995.0,103.25 L996.0,103.22 L997.0,103.19 L998.0,103.16 L999.0,103.13 L1000.0,103.10 L1001.0,103.07 L1002.0,103.04 L1003.0,103.01 L1004.0,102.98 L1005.0,102.95 L1006.0,102.92 L1007.0,102.89 L1008.0,102.86 L1009.0,102.83 L1010.0,102.80 L1011.0,102.77 L1012.0,102.74 L1013.0,102.71 L1014.0,102.68 L1015.0,102.66 L1016.0,102.63 L1017.0,102.60 L1018.0,102.57 L1019.0,102.54 L1020.0,102.52 L1021.0,102.49 L1022.0,102.46 L1023.0,102.43 L1024.0,102.41 L1025.0,102.38 L1026.0,102.35 L1027.0,102.33 L1028.0,102.30 L1029.0,102.27 L1030.0,102.25 L1031.0,102.22 L1032.0,102.19 L1033.0,102.17 L1034.0,102.14 L1035.0,102.12 L1036.0,102.09 L1037.0,102.06 L1038.0,102.04 L1039.0,102.01 L1040.0,101.99 L1041.0,101.96 L1042.0,101.94 L1043.0,101.91 L1044.0,101.89 L1045.0,101.86 L1046.0,101.84 L1047.0,101.82 L1048.0,101.79 L1049.0,101.77 L1050.0,101.74 L1051.0,101.72 L1052.0,101.70 L1053.0,101.67 L1054.0,101.65 L1055.0,101.62 L1056.0,101.60 L1057.0,101.58 L1058.0,101.55 L1059.0,101.53 L1060.0,101.51 L1061.0,101.49 L1062.0,101.46 L1063.0,101.44 L1064.0,101.42 L1065.0,101.40 L1066.0,101.37 L1067.0,101.35 L1068.0,101.33 L1069.0,101.31 L1070.0,101.28 L1071.0,101.26 L1072.0,101.24 L1073.0,101.22 L1074.0,101.20 L1075.0,101.18 L1076.0,101.15 L1077.0,101.13 L1078.0,101.11 L1079.0,101.09 L1080.0,101.07 L1081.0,101.05 L1082.0,101.03 L1083.0,101.01 L1084.0,100.99 L1085.0,100.97 L1086.0,100.94 L1087.0,100.92 L1088.0,100.90 L1089.0,100.88 L1090.0,100.86 L1091.0,100.84 L1092.0,100.82 L1093.0,100.80 L1094.0,100.78 L1095.0,100.76 L1096.0,100.74 L1097.0,100.72 L1098.0,100.70 L1099.0,100.68 L1100.0,100.66 L1101.0,100.64 L1102.0,100.62 L1103.0,100.60 L1104.0,100.59 L1105.0,100.57 L1106.0,100.55 L1107.0,100.53 L1108.0,100.51 L1109.0,100.49 L1110.0,100.47 L1111.0,100.45 L1112.0,100.43 L1113.0,100.41 L1114.0,100.39 L1115.0,100.38 L1116.0,100.36 L1117.0,100.34 L1118.0,100.32 L1119.0,100.30 L1120.0,100.28 L1121.0,100.26 L1122.0,100.25 L1123.0,100.23 L1124.0,100.21 L1125.0,100.19 L1126.0,100.17 L1127.0,100.15 L1128.0,100.14 L1129.0,100.12 L1130.0,100.10 L1131.0,100.08 L1132.0,100.06 L1133.0,100.05 L1134.0,100.03 L1135.0,100.01 L1136.0,99.99 L1137.0,99.98 L1138.0,99.96 L1139.0,99.94 L1140.0,99.92 L1141.0,99.90 L1142.0,99.89 L1143.0,99.87 L1144.0,99.85 L1145.0,99.83 L1146.0,99.82 L1147.0,99.80 L1148.0,99.78 L1149.0,99.76 L1150.0,99.75 L1151.0,99.73 L1152.0,99.71 L1153.0,99.69 L1154.0,99.68 L1155.0,99.66 L1156.0,99.64 L1157.0,99.62 L1158.0,99.61 L1159.0,99.59 L1160.0,99.57 L1161.0,99.56 L1162.0,99.54 L1163.0,99.52 L1164.0,99.50 L1165.0,99.49 L1166.0,99.47 L1167.0,99.45 L1168.0,99.43 L1169.0,99.42 L1170.0,99.40 L1171.0,99.38 L1172.0,99.37 L1173.0,99.35 L1174.0,99.33 L1175.0,99.31 L1176.0,99.30 L1177.0,99.28 L1178.0,99.26 L1179.0,99.25 L1180.0,99.23 L1181.0,99.21 L1182.0,99.19 L1183.0,99.18 L1184.0,99.16 L1185.0,99.14 L1186.0,99.12 L1187.0,99.11 L1188.0,99.09 L1189.0,99.07 L1190.0,99.06 L1191.0,99.04 L1192.0,99.02 L1193.0,99.00 L1194.0,98.99 L1195.0,98.97 L1196.0,98.95 L1197.0,98.93 L1198.0,98.92 L1199.0,98.90 L1200.0,98.88 L1201.0,98.86 L1202.0,98.85 L1203.0,98.83 L1204.0,98.81 L1205.0,98.79 L1206.0,98.78 L1207.0,98.76 L1208.0,98.74 L1209.0,98.72 L1210.0,98.70 L1211.0,98.69 L1212.0,98.67 L1213.0,98.65 L1214.0,98.63 L1215.0,98.62 L1216.0,98.60 L1217.0,98.58 L1218.0,98.56 L1219.0,98.54 L1220.0,98.53 L1221.0,98.51 L1222.0,98.49" stroke="#0070C0" stroke-width="7" fill="none" stroke-linejoin="round" stroke-linecap="butt"/>
<rect x="1278" y="0" width="5" height="696" fill="#000"/>
<rect x="0" y="692" width="1283" height="4" fill="#000"/>
</svg>
</body></html>
